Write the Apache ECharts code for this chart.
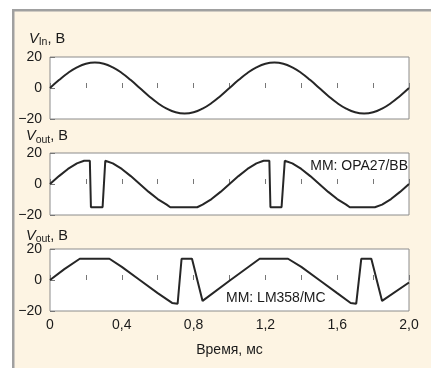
<!DOCTYPE html>
<html>
<head>
<meta charset="utf-8">
<script src="https://cdn.jsdelivr.net/npm/echarts@6/dist/echarts.min.js"></script>
<style>
html,body{margin:0;padding:0;background:#fff;}
#chart{width:431px;height:368px;}
</style>
</head>
<body>
<div id="chart"></div>
<script>
// ---- data ----
const vinT = [0,0.05,0.1,0.15,0.2,0.25,0.3,0.35,0.4,0.45,0.5,0.55,0.6,0.65,0.7,0.75,0.8,0.85,0.9,0.95,1.0,
              1.05,1.1,1.15,1.2,1.25,1.3,1.35,1.4,1.45,1.5,1.55,1.6,1.65,1.7,1.75,1.8,1.85,1.9,1.95,2.0];
const vinV = [0,5.1,9.7,13.3,15.7,16.5,15.7,13.3,9.7,5.1,0,-5.1,-9.7,-13.3,-15.7,-16.5,-15.7,-13.3,-9.7,-5.1,0,
              5.1,9.7,13.3,15.7,16.5,15.7,13.3,9.7,5.1,0,-5.1,-9.7,-13.3,-15.7,-16.5,-15.7,-13.3,-9.7,-5.1,0];

const opaT = [0,0.05,0.1,0.15,0.19,0.222,0.228,0.293,0.308,0.35,0.4,0.45,0.5,0.55,0.6,0.65,0.67,0.82,0.85,0.9,0.95,1.0,
              1.05,1.1,1.15,1.19,1.222,1.228,1.29,1.308,1.35,1.4,1.45,1.5,1.55,1.6,1.65,1.67,1.81,1.85,1.9,1.95,2.0];
const opaV = [0,5.1,9.7,13.3,15,15,-15,-15,15,13.3,9.7,5.1,0,-5.1,-9.7,-13.3,-15,-15,-13.3,-9.7,-5.1,0,
              5.1,9.7,13.3,15,15,-15,-15,15,13.3,9.7,5.1,0,-5.1,-9.7,-13.3,-15,-15,-13.3,-9.7,-5.1,0];

const lmT = [0,0.08,0.166,0.331,0.4,0.5,0.6,0.68,0.711,0.733,0.791,0.85,1.0,1.168,1.326,1.4,1.5,1.6,1.675,1.706,1.734,1.79,1.85,2.0];
const lmV = [0,7,13.7,13.7,8.5,0,-8.5,-14.8,-15.3,13.7,13.7,-13.5,-0.5,13.7,13.7,8.5,0,-8.5,-14.8,-15.3,13.7,13.7,-13.5,-1.6];

const yTicks = [-20, 0, 20];
const xLabelValues = [0, 0.4, 0.8, 1.2, 1.6, 2.0];
const titles = ['In', 'out', 'out'];
const notes = ['MM: OPA27/BB', 'MM: LM358/MC'];
const xName = 'Время, мс';

// ---- chart ----
const FONT = "'Liberation Sans', Arial, sans-serif";
const FS = 14;
const TXT = '#1a1a1a';
const LINE = '#262626';
const zip = (a, b) => a.map((t, i) => [t, b[i]]);

const gridTops = [57, 153, 249];
const grids = gridTops.map(t => ({
  left: 50, right: 22, top: t, height: 62,
  show: true, backgroundColor: '#ffffff', borderColor: '#8c8c8c', borderWidth: 1
}));

const xAxes = [0,1,2].map(i => ({
  gridIndex: i, type: 'value', min: 0, max: 2, interval: 0.2,
  axisLine: {show: false},
  splitLine: {show: false},
  axisTick: {show: true, inside: true, length: 5, lineStyle: {color: '#777', width: 1}},
  axisLabel: {
    show: i === 2, margin: 7, fontSize: FS, fontFamily: FONT, color: TXT,
    formatter: v => {
      const hit = xLabelValues.find(x => Math.abs(x - v) < 1e-6);
      if (hit === undefined) return '';
      return hit === 0 ? '0' : hit.toFixed(1).replace('.', ',');
    }
  },
  name: i === 2 ? xName : '',
  nameLocation: 'middle', nameGap: 32,
  nameTextStyle: {fontSize: FS, fontFamily: FONT, color: TXT}
}));

const yAxes = [0,1,2].map(i => ({
  gridIndex: i, type: 'value', min: yTicks[0], max: yTicks[yTicks.length-1], interval: 20,
  axisLine: {show: false},
  splitLine: {show: false},
  axisTick: {show: true, inside: true, length: 5, lineStyle: {color: '#777', width: 1}},
  axisLabel: {
    margin: 8, fontSize: FS, fontFamily: FONT, color: TXT,
    formatter: v => String(v).replace('-', '\u2212')
  }
}));

const lineSeries = (idx, data, smooth) => ({
  type: 'line', xAxisIndex: idx, yAxisIndex: idx, data: data,
  showSymbol: false, smooth: smooth, clip: true,
  lineStyle: {color: LINE, width: 2}
});

const titleY = [38.5, 136, 235.5];
const titleX = [29, 26, 26];

const graphics = [
  {type: 'rect', z: -10, shape: {x: 12, y: 9, width: 600, height: 600}, style: {fill: '#a0a0a0'}},
  {type: 'rect', z: -9, shape: {x: 14.5, y: 11.5, width: 600, height: 600}, style: {fill: '#fdf4e3'}}
];
titles.forEach((s, i) => {
  graphics.push({
    type: 'text', z: 10, x: titleX[i], y: titleY[i],
    style: {
      text: '{v|V}{s|' + s + '}{n|, В}',
      verticalAlign: 'middle', align: 'left',
      fill: TXT,
      rich: {
        v: {fontSize: 14.5, fontStyle: 'italic', fontFamily: FONT, fill: TXT, lineHeight: 16},
        s: {fontSize: 10.5, fontFamily: FONT, fill: TXT, lineHeight: 10, padding: [8, 0, 0, 0]},
        n: {fontSize: 14.5, fontFamily: FONT, fill: TXT, lineHeight: 16}
      }
    }
  });
});
graphics.push({
  type: 'text', z: 10, x: 408, y: 166,
  style: {text: notes[0], align: 'right', verticalAlign: 'middle', fontSize: FS, fontFamily: FONT, fill: TXT}
});
graphics.push({
  type: 'text', z: 10, x: 226, y: 298.5,
  style: {text: notes[1], align: 'left', verticalAlign: 'middle', fontSize: FS, fontFamily: FONT, fill: TXT}
});

const chart = echarts.init(document.getElementById('chart'), null, {renderer: 'canvas'});
chart.setOption({
  animation: false,
  backgroundColor: '#ffffff',
  grid: grids,
  xAxis: xAxes,
  yAxis: yAxes,
  graphic: graphics,
  series: [
    lineSeries(0, zip(vinT, vinV), true),
    lineSeries(1, zip(opaT, opaV), false),
    lineSeries(2, zip(lmT, lmV), false)
  ]
});
</script>
</body>
</html>
